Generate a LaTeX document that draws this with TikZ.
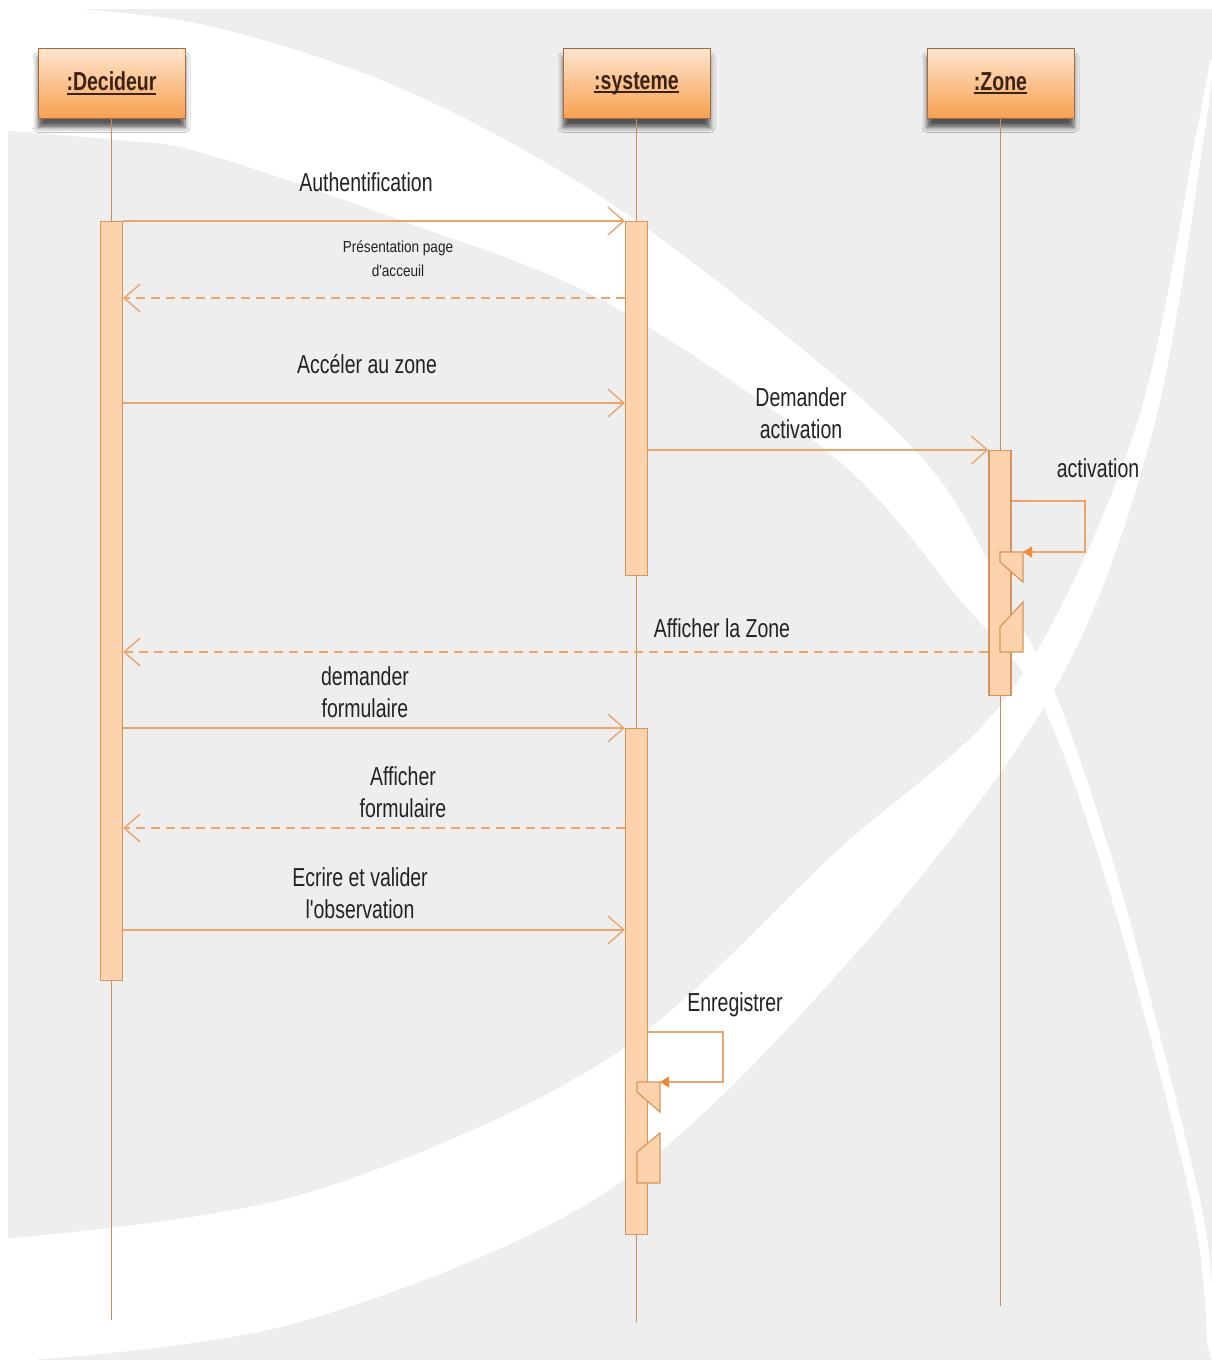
\documentclass[tikz,border=0pt]{standalone}
\usepackage{fontspec}
\usetikzlibrary{arrows.meta,shadows.blur}
\newfontfamily\lblfont[FakeStretch=0.75]{Liberation Sans}
\newfontfamily\smlfont[FakeStretch=0.85]{Liberation Sans}
\definecolor{bggrey}{HTML}{EEEEEE}
\definecolor{msgcol}{HTML}{EDA56B}
\definecolor{lifecol}{HTML}{C98D55}
\definecolor{barfill}{HTML}{FDD3AE}
\definecolor{barline}{HTML}{D8955A}
\definecolor{headtop}{HTML}{FDE6CF}
\definecolor{headbot}{HTML}{F8A04F}
\definecolor{headline}{HTML}{A36A3C}
\definecolor{headtext}{HTML}{3A2214}
\definecolor{txtcol}{HTML}{222222}
\definecolor{selfhead}{HTML}{EE8A3A}
% thick underline for the object names
\newcommand{\ulbox}[1]{\leavevmode\setbox0=\hbox{#1}\rlap{\color{headtext}\rule[-4pt]{\wd0}{2.2pt}}\box0}
\tikzset{
  head/.style={draw=headline, line width=1pt, top color=headtop, bottom color=headbot,
    minimum width=147pt, minimum height=70pt, inner sep=0pt,
    blur shadow={shadow xshift=0pt, shadow yshift=-9pt, shadow blur radius=5pt, shadow opacity=65},
    font=\lblfont\bfseries\fontsize{26pt}{30pt}\selectfont, text=headtext},
  bar/.style={draw=barline, fill=barfill, line width=1.2pt, minimum width=22pt, inner sep=0pt, anchor=north},
  life/.style={draw=lifecol, line width=1.4pt},
  msg/.style={draw=msgcol, line width=1.4pt, -{Straight Barb[length=16pt,width=28pt]}},
  reply/.style={msg, dash pattern=on 9pt off 6pt},
  loopmsg/.style={draw=msgcol, line width=1.2pt, -{Triangle[length=9pt,width=11pt,color=selfhead]}},
  brk/.style={draw=barline, fill=barfill, line width=1.2pt},
  lbl/.style={font=\lblfont\fontsize{26pt}{32pt}\selectfont, text=txtcol, align=center, inner sep=0pt},
  sml/.style={font=\smlfont\fontsize{16pt}{24pt}\selectfont, text=txtcol, align=center, inner sep=0pt},
}
\begin{document}
\begin{tikzpicture}[x=1pt,y=-1pt]
\useasboundingbox (0,0) rectangle (1212,1360);
% backdrop: grey sheet with two white swooshes
\fill[white] (0,0) rectangle (1212,1360);
\fill[bggrey] (8,9) rectangle (1212,1360);
\fill[white] plot[smooth, tension=0.55] coordinates {(20,5) (200,24) (400,88) (606,200) (830,372) (940,480) (1010,605) (1060,705) (1124,900) (1200,1200) (1212,1300)}
  -- (1212,1360)
  -- plot[smooth, tension=0.55] coordinates {(1207,1345) (1192,1205) (1112,900) (1040,700) (960,600) (838,460) (606,302) (400,220) (200,152) (116,140) (0,130)}
  -- (0,5) -- cycle;
\fill[white] plot[smooth, tension=0.55] coordinates {(30,1360) (300,1322) (606,1192) (850,960) (1054,690) (1153,430) (1205,130) (1212,60)}
  -- plot[smooth, tension=0.55] coordinates {(1210,60) (1197,130) (1135,430) (1012,690) (838,850) (606,1060) (300,1195) (0,1239)}
  -- (0,1360) -- cycle;

% object heads
\node[head] (hd) at (111.5,83.5) {\ulbox{:Decideur}};
\node[head] (hs) at (636.5,83.5) {\ulbox{:systeme}};
\node[head] (hz) at (1000.5,83.5) {\ulbox{:Zone}};

% lifelines
\coordinate (dend) at (111.5,1320);
\coordinate (send) at (636.5,1322);
\coordinate (zend) at (1000.5,1306);
\draw[life] (hd.south) -- (dend);
\draw[life] (hs.south) -- (send);
\draw[life] (hz.south) -- (zend);

% activation bars
\node[bar, minimum height=759pt] (dbar) at (111.5,221) {};
\node[bar, minimum height=354pt] (sbar1) at (636.5,221) {};
\node[bar, minimum height=506pt] (sbar2) at (636.5,728) {};
\node[bar, minimum height=245pt] (zbar) at (1000,450) {};

% message levels
\coordinate (y1) at (0,221);
\coordinate (y2) at (0,298);
\coordinate (y3) at (0,403);
\coordinate (y4) at (0,450);
\coordinate (y5) at (0,652);
\coordinate (y6) at (0,728);
\coordinate (y7) at (0,828);
\coordinate (y8) at (0,930);
\coordinate (y9) at (0,501);
\coordinate (y10) at (0,1032);

% messages
\draw[msg] (dbar.east |- y1) -- (sbar1.west |- y1);
\draw[reply] (sbar1.west |- y2) -- (dbar.east |- y2);
\draw[msg] (dbar.east |- y3) -- (sbar1.west |- y3);
\draw[msg] (sbar1.east |- y4) -- (zbar.west |- y4);
\draw[reply] (zbar.west |- y5) -- (dbar.east |- y5);
\draw[msg] (dbar.east |- y6) -- (sbar2.west |- y6);
\draw[reply] (sbar2.west |- y7) -- (dbar.east |- y7);
\draw[msg] (dbar.east |- y8) -- (sbar2.west |- y8);

% self call on :Zone
\draw[brk] (1000,552) -- (1023,552) -- (1023,582) -- (1000,562) -- cycle;
\draw[brk] (1023,602) -- (1023,652) -- (1000,652) -- (1000,627) -- cycle;
\coordinate (za) at (1085,501);
\coordinate (zb) at (1085,552);
\coordinate (zc) at (1023,552);
\draw[loopmsg] (zbar.east |- y9) -- (za) -- (zb) -- (zc);

% self call on :systeme
\draw[brk] (637,1082) -- (660,1082) -- (660,1112) -- (637,1092) -- cycle;
\draw[brk] (660,1133) -- (660,1183) -- (637,1183) -- (637,1152) -- cycle;
\coordinate (sa) at (723,1032);
\coordinate (sb) at (723,1082);
\coordinate (sc) at (660,1082);
\draw[loopmsg] (sbar2.east |- y10) -- (sa) -- (sb) -- (sc);

% message labels
\node[lbl] (t1) at (366,182) {Authentification};
\node[sml] (t2) at (398,259) {Présentation page\\d'acceuil};
\node[lbl] (t3) at (367,364) {Accéler au zone};
\node[lbl] (t4) at (801,413) {Demander\\activation};
\node[lbl] (t5) at (1098,468) {activation};
\node[lbl] (t6) at (722,628) {Afficher la Zone};
\node[lbl] (t7) at (365,692) {demander\\formulaire};
\node[lbl] (t8) at (403,792) {Afficher\\formulaire};
\node[lbl] (t9) at (360,893) {Ecrire et valider\\l'observation};
\node[lbl] (t10) at (735,1005) {Enregistrer};
\end{tikzpicture}
\end{document}
